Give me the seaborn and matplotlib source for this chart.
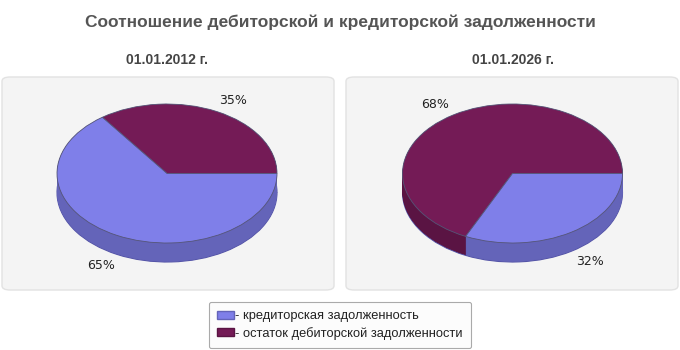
import matplotlib
matplotlib.use("Agg")
import matplotlib.pyplot as plt
import seaborn as sns
import numpy as np
from matplotlib.patches import FancyBboxPatch, Patch

sns.set_theme(style="white")
plt.rcParams['font.family'] = ['Liberation Sans', 'DejaVu Sans']

# ---- data ----
title = "Соотношение дебиторской и кредиторской задолженности"
dates = ["01.01.2012 г.", "01.01.2026 г."]
series_names = ["остаток дебиторской задолженности", "кредиторская задолженность"]
# order: [остаток дебиторской, кредиторская] (drawn counter-clockwise from 3 o'clock)
values_2012 = [35, 65]
values_2026 = [68, 32]
legend_order = [1, 0]

top_colors = ["#741b56", "#7f7fe9"]
side_colors = ["#5a1443", "#6464b9"]
edge_colors = ["#4d0f39", "#5555a8"]

W, H = 680, 350
fig = plt.figure(figsize=(W / 100, H / 100), dpi=100)
fig.patch.set_facecolor("white")

def px_rect(x0, y0, x1, y1):
    return [x0 / W, 1 - y1 / H, (x1 - x0) / W, (y1 - y0) / H]

# panel backgrounds
for (x0, x1) in [(2, 334), (346, 678)]:
    y0, y1 = 77, 290
    p = FancyBboxPatch((x0 / W, 1 - y1 / H), (x1 - x0) / W, (y1 - y0) / H,
                       boxstyle="round,pad=0,rounding_size=0.012",
                       transform=fig.transFigure, facecolor="#f4f4f4",
                       edgecolor="#e2e2e2", linewidth=1.0, zorder=0)
    fig.add_artist(p)

fig.text(0.5, 1 - 22 / H, title, ha="center", va="center", fontsize=12.5,
         fontweight="bold", color="#555555")

centers = [(167, 173.5), (512.5, 173.5)]
rx, ry = 110, 69.5
depth = 19 / ry
xr = (-1.5, 1.5)
yr = (-1.6, 1.5)

for (cx, cy), vals, date in zip(centers, [values_2012, values_2026], dates):
    fig.text(cx / W, 1 - 60 / H, date, ha="center", va="center", fontsize=10,
             fontweight="bold", color="#444444")
    ax = fig.add_axes(px_rect(cx + xr[0] * rx, cy - yr[1] * ry,
                              cx + xr[1] * rx, cy - yr[0] * ry))
    ax.patch.set_alpha(0)
    # side (stacked layers)
    n = 40
    for i, d in enumerate(np.linspace(depth, 0.005, n)):
        lw = 0.8 if i == 0 else 0
        ax.pie(vals, colors=side_colors, startangle=0, counterclock=True,
               center=(0, -d), radius=1,
               wedgeprops=dict(linewidth=lw, edgecolor=edge_colors[1] if i == 0 else "none"))
    # top surface
    _, _, autotexts = ax.pie(vals, colors=top_colors, startangle=0, counterclock=True,
                             center=(0, 0), radius=1,
                             autopct=lambda p: f"{p:.0f}%", pctdistance=1.0,
                             textprops=dict(fontsize=9, color="#222222", family="DejaVu Sans"),
                             wedgeprops=dict(linewidth=0.6, edgecolor="#555577"))
    for t in autotexts:
        x, y = t.get_position()
        t.set_position((x * 1.32, y * 1.18 - (depth if y < 0 else 0)))
    ax.set_aspect("auto")
    ax.set_xlim(*xr)
    ax.set_ylim(*yr)
    ax.axis("off")

handles = [Patch(facecolor=top_colors[i], edgecolor=side_colors[i]) for i in legend_order]
labels = ["- " + series_names[i] for i in legend_order]
leg = fig.legend(handles, labels, loc="center", bbox_to_anchor=(340 / W, 1 - 325 / H),
                 frameon=True, fancybox=True, fontsize=9.3, handlelength=1.3,
                 handleheight=0.6, handletextpad=0.1, labelspacing=0.35,
                 borderpad=0.65, borderaxespad=0, framealpha=1)
leg.get_frame().set_edgecolor("#aaaaaa")
leg.get_frame().set_facecolor("#fcfcfc")
leg.get_frame().set_linewidth(0.8)
for t in leg.get_texts():
    t.set_color("#222222")

fig.savefig("out.png", dpi=100)
